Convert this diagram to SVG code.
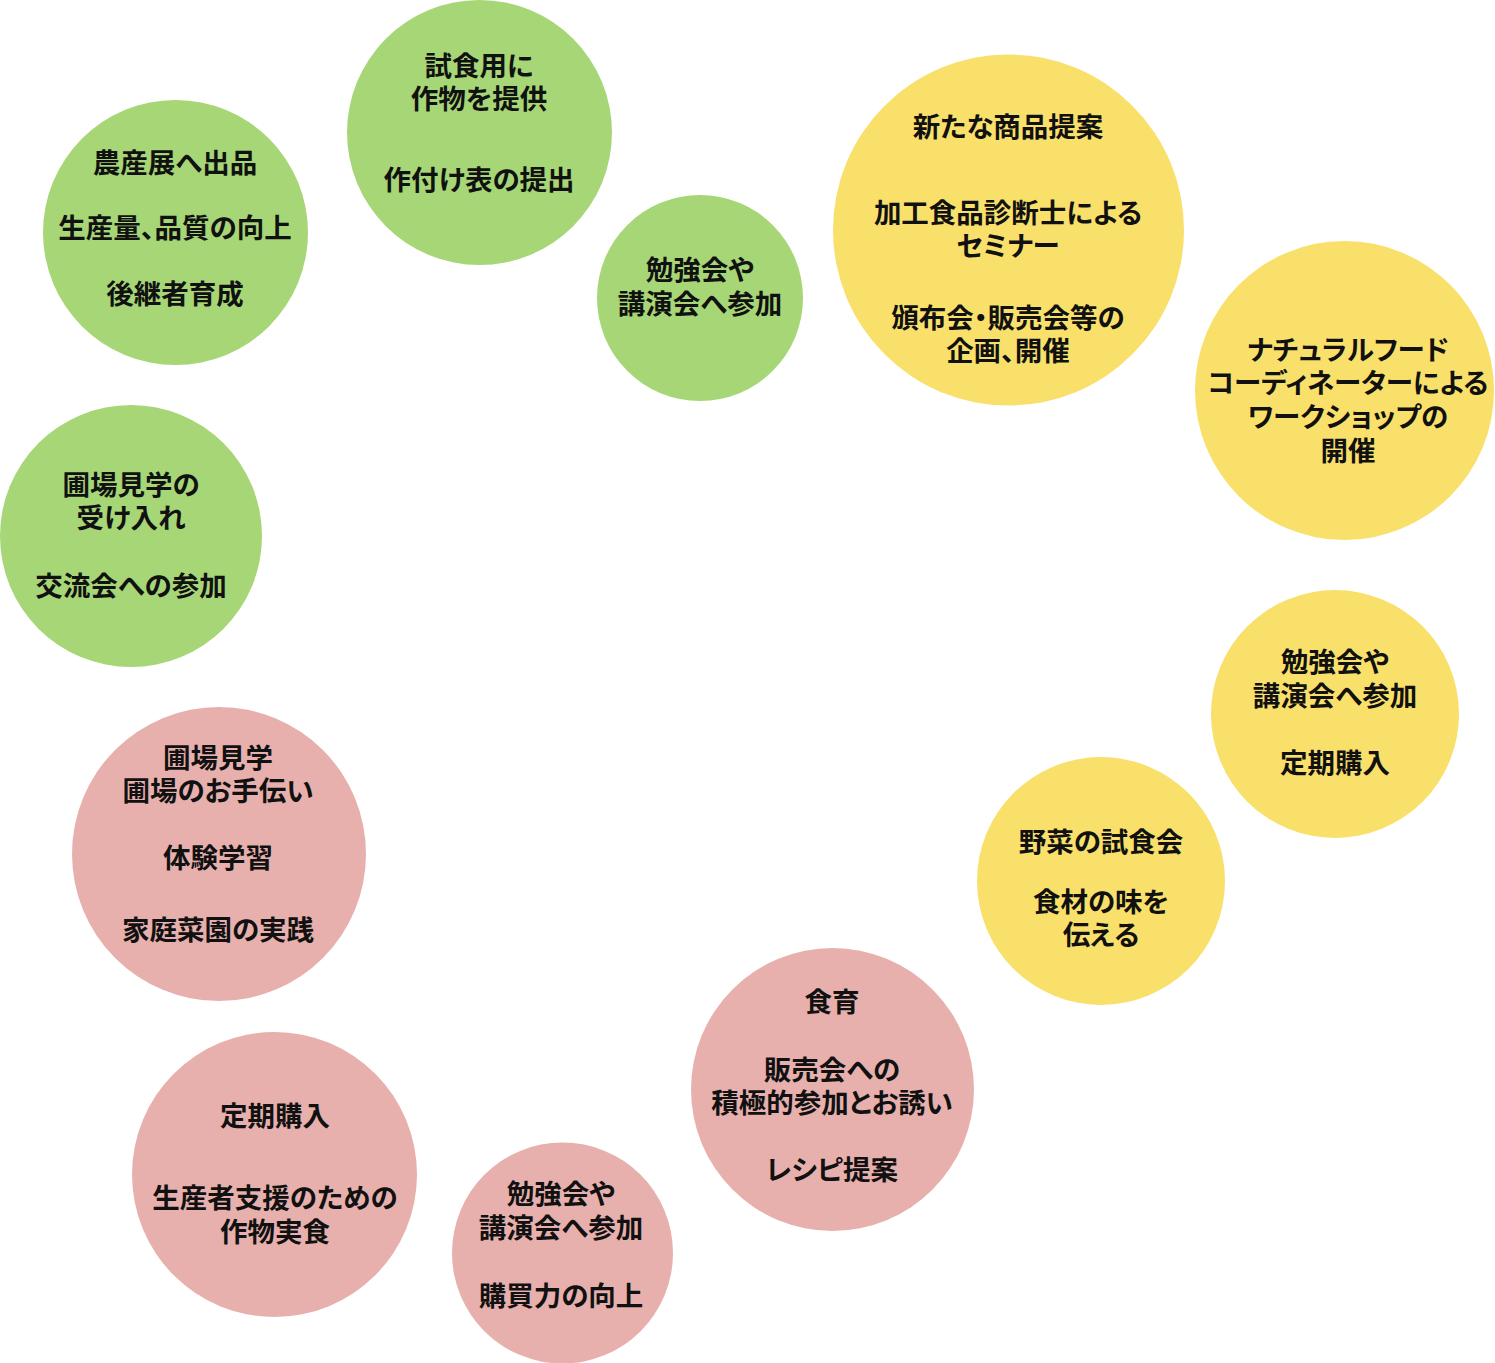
<svg xmlns="http://www.w3.org/2000/svg" width="1495" height="1363" viewBox="0 0 1495 1363">
<style>
.g{fill:#a6d676}.y{fill:#f9e06b}.p{fill:#e7b0ad}
text{font-family:"Noto Sans CJK JP","Noto Sans CJK SC",sans-serif;font-size:27.5px;font-weight:bold;fill:#111;text-anchor:middle;font-feature-settings:"palt"}
</style>
<rect width="1495" height="1363" fill="#fff"/>
<g id="connectors"/>
<g id="n1"><circle class="g" cx="175.5" cy="232.5" r="132.5"/><text x="175" y="173">農産展へ出品</text><text x="175" y="238">生産量、品質の向上</text><text x="175" y="304">後継者育成</text></g>
<g id="n2"><circle class="g" cx="479.5" cy="132.5" r="132.5"/><text x="479" y="76">試食用に</text><text x="479" y="109">作物を提供</text><text x="479" y="190">作付け表の提出</text></g>
<g id="n3"><circle class="g" cx="700" cy="298" r="103"/><text x="700" y="280">勉強会や</text><text x="700" y="314">講演会へ参加</text></g>
<g id="n4"><circle class="y" cx="1008.5" cy="230" r="175.5"/><text x="1008" y="137">新たな商品提案</text><text x="1008" y="223">加工食品診断士による</text><text x="1008" y="256">セミナー</text><text x="1008" y="328">頒布会・販売会等の</text><text x="1008" y="361">企画、開催</text></g>
<g id="n5"><circle class="y" cx="1344.5" cy="390.5" r="149.5"/><text x="1348" y="360">ナチュラルフード</text><text x="1348" y="393">コーディネーターによる</text><text x="1348" y="427">ワークショップの</text><text x="1348" y="461">開催</text></g>
<g id="n6"><circle class="g" cx="131" cy="536" r="131"/><text x="131" y="495">圃場見学の</text><text x="131" y="528">受け入れ</text><text x="131" y="596">交流会への参加</text></g>
<g id="n7"><circle class="y" cx="1335" cy="714" r="124"/><text x="1335" y="672">勉強会や</text><text x="1335" y="706">講演会へ参加</text><text x="1335" y="773">定期購入</text></g>
<g id="n8"><circle class="p" cx="219" cy="854" r="147"/><text x="218" y="768">圃場見学</text><text x="218" y="801">圃場のお手伝い</text><text x="218" y="868">体験学習</text><text x="218" y="940">家庭菜園の実践</text></g>
<g id="n9"><circle class="y" cx="1101" cy="881" r="124"/><text x="1101" y="852">野菜の試食会</text><text x="1101" y="912">食材の味を</text><text x="1101" y="945">伝える</text></g>
<g id="n10"><circle class="p" cx="832.5" cy="1089.5" r="141.5"/><text x="832" y="1012">食育</text><text x="832" y="1080">販売会への</text><text x="832" y="1113">積極的参加とお誘い</text><text x="832" y="1180">レシピ提案</text></g>
<g id="n11"><circle class="p" cx="274.5" cy="1174.5" r="142.5"/><text x="275" y="1126">定期購入</text><text x="275" y="1208">生産者支援のための</text><text x="275" y="1242">作物実食</text></g>
<g id="n12"><circle class="p" cx="562.5" cy="1253" r="110.5"/><text x="561" y="1204">勉強会や</text><text x="561" y="1238">講演会へ参加</text><text x="561" y="1306">購買力の向上</text></g>
</svg>
